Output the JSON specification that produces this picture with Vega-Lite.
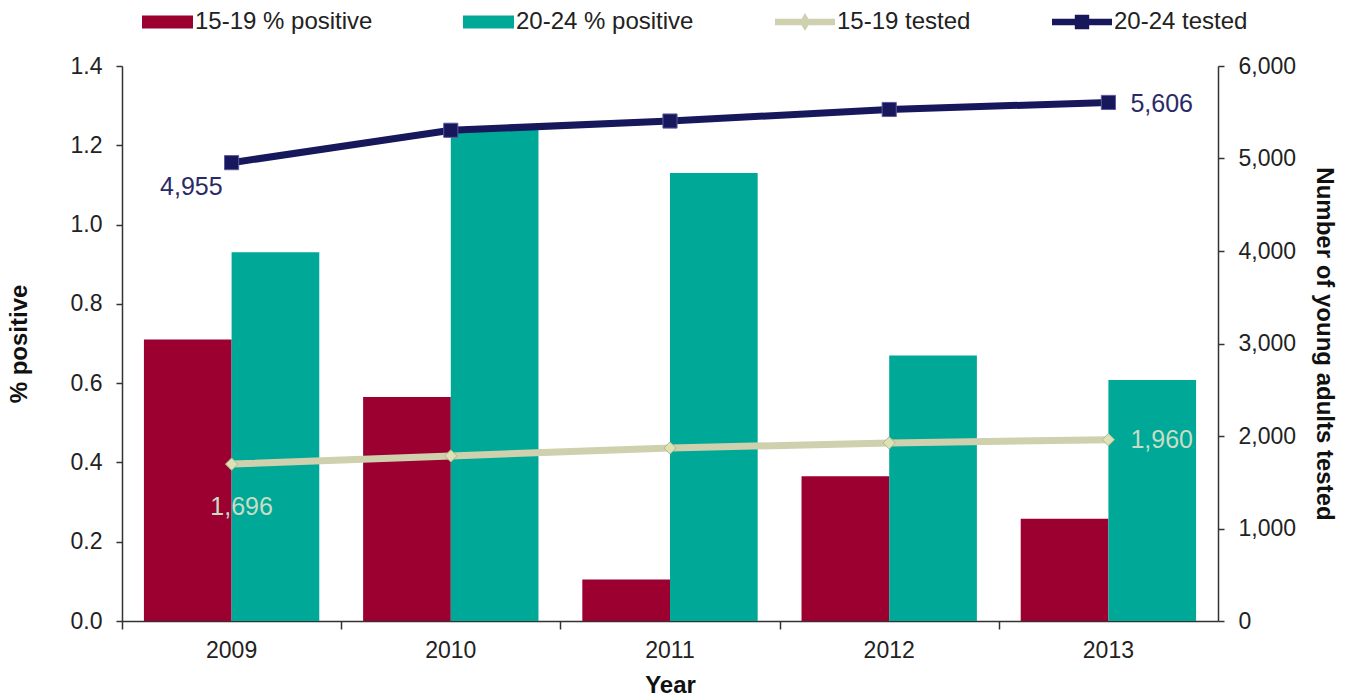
{
  "$schema": "https://vega.github.io/schema/vega-lite/v6.json",
  "width": 1096,
  "height": 555,
  "autosize": "none",
  "padding": {"left": 122, "top": 66, "right": 131, "bottom": 76},
  "background": "white",
  "config": {
    "view": {"stroke": null},
    "font": "Liberation Sans",
    "axis": {
      "grid": false,
      "domainColor": "#333333",
      "tickColor": "#333333",
      "domainWidth": 1.5,
      "tickWidth": 1.5,
      "labelColor": "#222222",
      "labelFont": "Liberation Sans",
      "labelFontSize": 23,
      "titleFont": "Liberation Sans",
      "titleFontSize": 24,
      "titleFontWeight": "bold",
      "titleColor": "#111111"
    }
  },
  "datasets": {
    "positive": [
      {"year": "2009", "series": "15-19 % positive", "pct": 0.71},
      {"year": "2009", "series": "20-24 % positive", "pct": 0.93},
      {"year": "2010", "series": "15-19 % positive", "pct": 0.565},
      {"year": "2010", "series": "20-24 % positive", "pct": 1.24},
      {"year": "2011", "series": "15-19 % positive", "pct": 0.105},
      {"year": "2011", "series": "20-24 % positive", "pct": 1.13},
      {"year": "2012", "series": "15-19 % positive", "pct": 0.365},
      {"year": "2012", "series": "20-24 % positive", "pct": 0.67},
      {"year": "2013", "series": "15-19 % positive", "pct": 0.258},
      {"year": "2013", "series": "20-24 % positive", "pct": 0.608}
    ],
    "tested": [
      {"year": "2009", "series": "15-19 tested", "tested": 1696},
      {"year": "2010", "series": "15-19 tested", "tested": 1785},
      {"year": "2011", "series": "15-19 tested", "tested": 1870},
      {"year": "2012", "series": "15-19 tested", "tested": 1925},
      {"year": "2013", "series": "15-19 tested", "tested": 1960},
      {"year": "2009", "series": "20-24 tested", "tested": 4955},
      {"year": "2010", "series": "20-24 tested", "tested": 5305},
      {"year": "2011", "series": "20-24 tested", "tested": 5405},
      {"year": "2012", "series": "20-24 tested", "tested": 5530},
      {"year": "2013", "series": "20-24 tested", "tested": 5606}
    ]
  },
  "layer": [
    {
      "data": {"name": "positive"},
      "mark": {"type": "bar"},
      "encoding": {
        "x": {
          "field": "year",
          "type": "nominal",
          "scale": {"paddingInner": 0.2, "paddingOuter": 0.1},
          "axis": {"orient": "bottom", "title": "Year", "ticks": false, "labelAngle": 0, "labelPadding": 18, "titlePadding": 11, "domain": true}
        },
        "xOffset": {"field": "series", "type": "nominal"},
        "y": {
          "field": "pct",
          "type": "quantitative",
          "scale": {"domain": [0, 1.4]},
          "axis": {"title": "% positive", "values": [0, 0.2, 0.4, 0.6, 0.8, 1.0, 1.2, 1.4], "format": ".1f", "tickSize": 6, "labelPadding": 14, "titlePadding": 39}
        },
        "color": {
          "field": "series",
          "type": "nominal",
          "scale": {
            "domain": ["15-19 % positive", "20-24 % positive", "15-19 tested", "20-24 tested"],
            "range": ["#9b0030", "#00a898", "#cfd0ad", "#17175c"]
          },
          "legend": {
            "orient": "none",
            "legendX": 11,
            "legendY": -74,
            "direction": "horizontal",
            "title": null,
            "symbolSize": 3600,
            "labelFontSize": 24,
            "labelFont": "Liberation Sans",
            "labelColor": "#222222",
            "labelLimit": 500,
            "columnPadding": 81,
            "labelOffset": 2,
            "symbolStrokeWidth": 0,
            "symbolOpacity": 1,
            "encode": {
              "symbols": {
                "update": {
                  "shape": {"signal": "indexof(datum.value, 'positive') >= 0 ? 'M-0.7,-0.22H1V0.22H-0.7Z' : (datum.value == '15-19 tested' ? 'M-1,-0.11H1V0.11H-1Z M0,-0.3L0.18,0L0,0.3L-0.18,0Z' : 'M-1,-0.11H1V0.11H-1Z M-0.24,-0.24H0.24V0.24H-0.24Z')"},
                  "fill": {"scale": "color", "field": "value"},
                  "strokeWidth": {"value": 0}
                }
              }
            }
          }
        }
      }
    },
    {
      "data": {"name": "tested"},
      "encoding": {
        "x": {"field": "year", "type": "nominal"},
        "y": {"field": "tested", "type": "quantitative"}
      },
      "layer": [
        {
          "mark": {"type": "line", "strokeWidth": 7},
          "encoding": {
            "x": {
              "field": "year",
              "type": "nominal",
              "axis": {"orient": "bottom", "bandPosition": 0, "tickOffset": -22, "labels": false, "title": null, "ticks": true, "tickSize": 8, "domain": false}
            },
            "y": {
              "field": "tested",
              "type": "quantitative",
              "scale": {"domain": [0, 6000]},
              "axis": {"orient": "right", "title": "Number of young adults tested", "values": [0, 1000, 2000, 3000, 4000, 5000, 6000], "format": ",.0f", "tickSize": 6, "labelPadding": 14, "titlePadding": 16}
            },
            "color": {"field": "series", "type": "nominal"}
          }
        },
        {
          "transform": [{"filter": "datum.series == '15-19 tested'"}],
          "mark": {"type": "point", "shape": "diamond", "filled": true, "size": 150, "fill": "#dde2b6", "stroke": "#b3b78c", "strokeWidth": 1, "opacity": 1}
        },
        {
          "transform": [{"filter": "datum.series == '20-24 tested'"}],
          "mark": {"type": "point", "shape": "square", "filled": true, "size": 200, "fill": "#17175c", "stroke": "#5a5aa0", "strokeWidth": 1, "opacity": 1}
        },
        {
          "transform": [{"filter": "datum.series == '20-24 tested' && datum.year == '2009'"}],
          "mark": {"type": "text", "align": "right", "baseline": "middle", "dx": -9, "dy": 24, "fontSize": 25, "font": "Liberation Sans", "color": "#2a2a66"},
          "encoding": {"text": {"field": "tested", "type": "quantitative", "format": ","}}
        },
        {
          "transform": [{"filter": "datum.series == '20-24 tested' && datum.year == '2013'"}],
          "mark": {"type": "text", "align": "left", "baseline": "middle", "dx": 22, "dy": 2, "fontSize": 25, "font": "Liberation Sans", "color": "#2a2a66"},
          "encoding": {"text": {"field": "tested", "type": "quantitative", "format": ","}}
        },
        {
          "transform": [{"filter": "datum.series == '15-19 tested' && datum.year == '2009'"}],
          "mark": {"type": "text", "align": "center", "baseline": "middle", "dx": 10, "dy": 43, "fontSize": 25, "font": "Liberation Sans", "color": "#c9dcc6"},
          "encoding": {"text": {"field": "tested", "type": "quantitative", "format": ","}}
        },
        {
          "transform": [{"filter": "datum.series == '15-19 tested' && datum.year == '2013'"}],
          "mark": {"type": "text", "align": "left", "baseline": "middle", "dx": 22, "dy": 0, "fontSize": 25, "font": "Liberation Sans", "color": "#c9dcc6"},
          "encoding": {"text": {"field": "tested", "type": "quantitative", "format": ","}}
        }
      ]
    }
  ],
  "resolve": {"scale": {"y": "independent"}, "axis": {"x": "independent"}}
}
